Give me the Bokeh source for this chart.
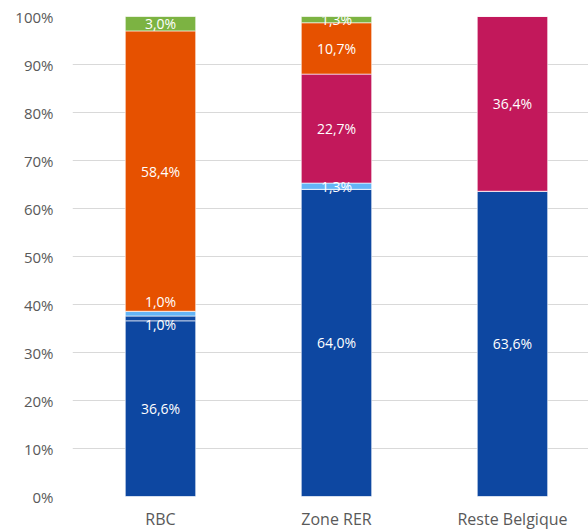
from bokeh.plotting import figure
from bokeh.models import ColumnDataSource, Range1d, FixedTicker
from bokeh.embed import file_html
from bokeh.resources import INLINE
from bokeh.core.properties import value

categories = ["RBC", "Zone RER", "Reste Belgique"]
dark_blue = [36.6, 64.0, 63.6]
mid_blue = [1.0, 0.0, 0.0]
light_blue = [1.0, 1.3, 0.0]
magenta = [0.0, 22.7, 36.4]
orange = [58.4, 10.7, 0.0]
green = [3.0, 1.3, 0.0]
y_ticks = [0, 10, 20, 30, 40, 50, 60, 70, 80, 90, 100]

series = [dark_blue, mid_blue, light_blue, magenta, orange, green]
names = ["dark_blue", "mid_blue", "light_blue", "magenta", "orange", "green"]
colors = ["#0D47A1", "#0F49A3", "#64B5F6", "#C2185B", "#E65100", "#7CB342"]
# manual pixel shifts of a few data labels (as in the reference)
label_shift = {(0, 1): 6, (0, 2): -12}

FONT = "Open Sans"

xs = list(range(len(categories)))
data = {"x": xs}
for n, s in zip(names, series):
    data[n] = s
src = ColumnDataSource(data)

p = figure(width=588, height=532, output_backend="svg", toolbar_location=None,
           x_range=Range1d(-0.5, 2.432), y_range=Range1d(0, 100),
           min_border_left=72, min_border_top=16, min_border_right=0, min_border_bottom=35)
p.outline_line_color = None
p.background_fill_color = "white"
p.border_fill_color = "white"

p.vbar_stack(names, x="x", width=0.4, color=colors, source=src,
             line_color="white", line_width=0.6)

# data labels
lx, ly, lt, loff = [], [], [], []
for i in xs:
    base = 0.0
    for k, s in enumerate(series):
        v = s[i]
        if v > 0:
            lx.append(i)
            ly.append(base + v / 2)
            lt.append(f"{v:.1f}%".replace(".", ","))
            loff.append(label_shift.get((i, k), 0))
        base += v
lsrc = ColumnDataSource(dict(x=lx, y=ly, text=lt, off=loff))
p.text(x="x", y="y", text="text", y_offset="off", source=lsrc,
       text_color="white", text_font=value(FONT), text_font_size="14px",
       text_align="center", text_baseline="middle")

# axes
p.xgrid.grid_line_color = None
p.ygrid.grid_line_color = "#D9D9D9"
p.ygrid.grid_line_width = 1
p.ygrid.ticker = FixedTicker(ticks=y_ticks)

yax = p.yaxis[0]
yax.ticker = FixedTicker(ticks=y_ticks)
yax.major_label_overrides = {t: f"{t}%" for t in y_ticks}
yax.axis_line_color = None
yax.major_tick_line_color = None
yax.major_tick_out = 0
yax.major_tick_in = 0
yax.minor_tick_line_color = None
yax.minor_tick_out = 0
yax.major_label_standoff = 19
yax.major_label_text_font = FONT
yax.major_label_text_font_size = "15px"
yax.major_label_text_color = "#595959"

xax = p.xaxis[0]
xax.ticker = FixedTicker(ticks=xs)
xax.major_label_overrides = {i: c for i, c in zip(xs, categories)}
xax.axis_line_color = None
xax.major_tick_line_color = None
xax.major_tick_out = 0
xax.major_tick_in = 0
xax.minor_tick_line_color = None
xax.minor_tick_out = 0
xax.major_label_standoff = 11
xax.major_label_text_font = FONT
xax.major_label_text_font_size = "16px"
xax.major_label_text_color = "#595959"

open("out.html", "w").write(file_html(p, INLINE))
